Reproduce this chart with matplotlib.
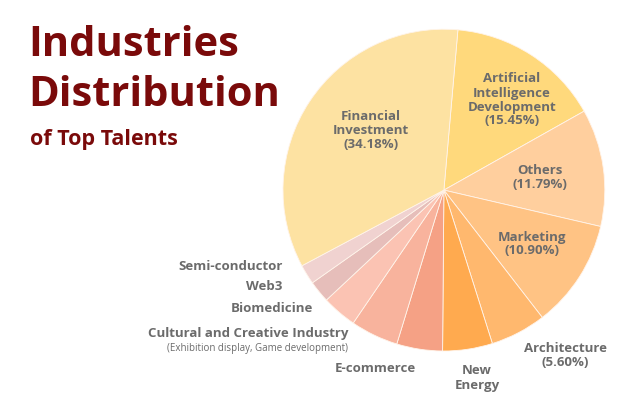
import matplotlib
matplotlib.use("Agg")
import matplotlib.pyplot as plt

plt.rcParams['font.family'] = ['Open Sans', 'DejaVu Sans']

categories = ["Artificial\nIntelligence\nDevelopment", "Others", "Marketing", "Architecture",
              "New\nEnergy", "E-commerce", "Cultural and Creative Industry", "Biomedicine",
              "Web3", "Semi-conductor", "Financial\nInvestment"]
values = [15.45, 11.79, 10.90, 5.60, 5.0, 4.6, 4.8, 3.5, 2.2, 1.98, 34.18]
show_pct = [True, True, True, True, False, False, False, False, False, False, True]
colors = ["#FFD97C", "#FFCF9E", "#FFC384", "#FFB86E", "#FFAA4F", "#F5A185",
          "#F8B39D", "#FBC3B3", "#E6BEBA", "#F0D2D0", "#FDE2A2"]

fig = plt.figure(figsize=(6.41, 4.16), dpi=100)
ax = fig.add_axes([0.4415, 0.156, 0.502, 0.774])
wedges, _ = ax.pie(values, colors=colors, startangle=85, counterclock=False,
                   wedgeprops=dict(linewidth=0.6, edgecolor="#fff4ea"))
ax.set_xlim(-1, 1)
ax.set_ylim(-1, 1)
ax.set_aspect("equal")

tc = "#6b6b6b"
fs = 9.5
pos = {
    0: (512, 100, "center"), 1: (540, 178, "center"), 2: (532, 244, "center"),
    3: (565, 355, "center"), 4: (477, 378, "center"), 5: (375, 368, "center"),
    10: (371, 131, "center"),
}
for i, (x, y, ha) in pos.items():
    txt = categories[i] + (f"\n({values[i]:.2f}%)" if show_pct[i] else "")
    fig.text(x / 641, 1 - y / 416, txt, ha=ha, va="center", fontsize=fs,
             fontweight="bold", color=tc, linespacing=1.1)

fig.text(348 / 641, 1 - 333 / 416, categories[6], ha="right", va="center",
         fontsize=fs, fontweight="bold", color=tc)
fig.text(348 / 641, 1 - 349 / 416, "(Exhibition display, Game development)", ha="right",
         va="center", fontsize=7, color=tc)
fig.text(313 / 641, 1 - 309 / 416, categories[7], ha="right", va="center",
         fontsize=fs, fontweight="bold", color=tc)
fig.text(282 / 641, 1 - 286 / 416, categories[8], ha="right", va="center",
         fontsize=fs, fontweight="bold", color=tc)
fig.text(283 / 641, 1 - 266 / 416, categories[9], ha="right", va="center",
         fontsize=fs, fontweight="bold", color=tc)

red = "#7A0A0A"
fig.text(28 / 641, 1 - 45 / 416, "Industries", fontsize=30, fontweight="bold",
         color=red, va="center")
fig.text(28 / 641, 1 - 96 / 416, "Distribution", fontsize=30, fontweight="bold",
         color=red, va="center")
fig.text(30 / 641, 1 - 140 / 416, "of Top Talents", fontsize=15.5, fontweight="bold",
         color=red, va="center")

fig.savefig("out.png", dpi=100)
